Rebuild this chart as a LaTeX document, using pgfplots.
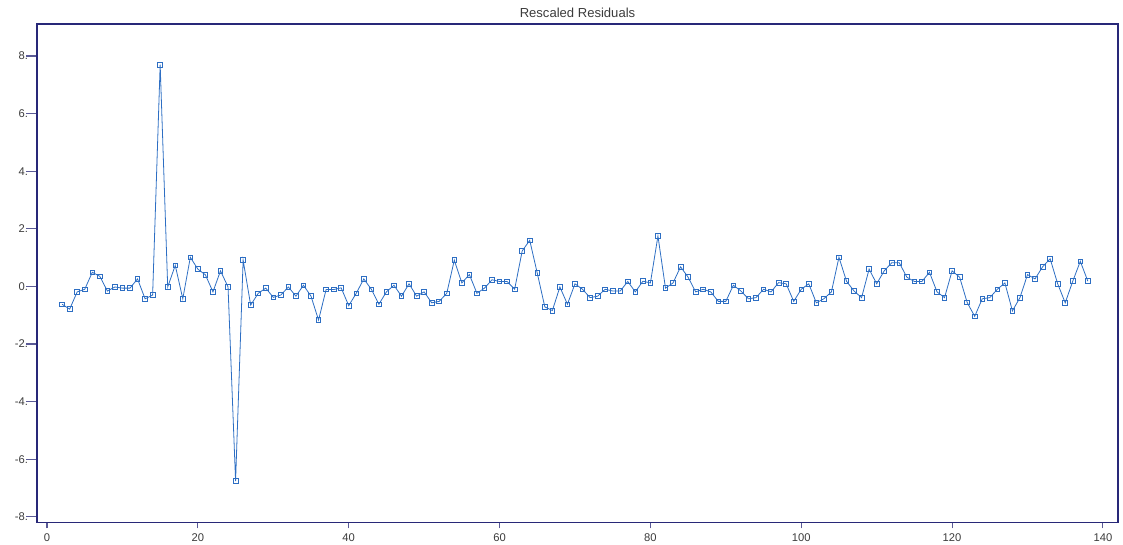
\documentclass[border=0pt]{standalone}
\usepackage{fontspec}
\setmainfont{Liberation Sans}
\usepackage{pgfplots}
\pgfplotsset{compat=1.18}
\definecolor{axnavy}{RGB}{40,40,120}
\definecolor{tickblue}{RGB}{90,90,150}
\definecolor{lineblue}{RGB}{45,110,195}
\definecolor{labgray}{RGB}{60,60,60}
\begin{document}
\begin{tikzpicture}
\useasboundingbox (-27.75pt,-16.3pt) rectangle (814.5pt,391.7pt);
\begin{axis}[
  scale only axis,
  width=810.75pt, height=373.7pt,
  xmin=-1.33, xmax=142.0,
  ymin=-8.19, ymax=9.11,
  axis line style={axnavy, line width=0.9pt},
  xtick={0,20,40,60,80,100,120,140},
  ytick={-8,-6,-4,-2,0,2,4,6,8},
  yticklabels={-8.,-6.,-4.,-2.,0.,2.,4.,6.,8.},
  tick align=outside,
  tick style={tickblue, line width=0.8pt},
  xtick style={/pgfplots/major tick length=4.5pt},
  ytick style={/pgfplots/major tick length=8pt},
  x tick label style={font=\fontsize{8.4}{10}\selectfont, text=labgray, yshift=-1pt},
  y tick label style={font=\fontsize{8.4}{10}\selectfont, text=labgray, xshift=1pt},
  /pgf/number format/assume math mode=true,
  xtick pos=bottom, ytick pos=left,
  title={Rescaled Residuals},
  title style={font=\fontsize{9.8}{11}\selectfont, text=labgray, at={(0.5,1)}, anchor=south, yshift=-4.8pt},
  clip=false,
]
\addplot[color=lineblue, line width=0.6pt, mark=square, mark size=1.75pt,
  mark options={fill=white, draw=lineblue, line width=0.6pt}] coordinates {
(2,-0.62)(3,-0.79)(4,-0.19)(5,-0.10)(6,0.49)(7,0.35)(8,-0.16)(9,-0.02)(10,-0.06)(11,-0.06)
(12,0.26)(13,-0.43)(14,-0.30)(15,7.70)(16,-0.02)(17,0.73)(18,-0.43)(19,1.01)(20,0.60)(21,0.40)
(22,-0.19)(23,0.54)(24,-0.02)(25,-6.76)(26,0.91)(27,-0.65)(28,-0.24)(29,-0.06)(30,-0.38)(31,-0.30)
(32,-0.02)(33,-0.34)(34,0.04)(35,-0.34)(36,-1.17)(37,-0.11)(38,-0.11)(39,-0.05)(40,-0.67)(41,-0.24)
(42,0.26)(43,-0.10)(44,-0.62)(45,-0.19)(46,0.04)(47,-0.34)(48,0.09)(49,-0.34)(50,-0.19)(51,-0.57)
(52,-0.52)(53,-0.24)(54,0.91)(55,0.12)(56,0.41)(57,-0.24)(58,-0.06)(59,0.23)(60,0.17)(61,0.17)
(62,-0.10)(63,1.23)(64,1.60)(65,0.46)(66,-0.71)(67,-0.84)(68,-0.02)(69,-0.62)(70,0.09)(71,-0.10)
(72,-0.39)(73,-0.34)(74,-0.10)(75,-0.16)(76,-0.16)(77,0.17)(78,-0.19)(79,0.18)(80,0.12)(81,1.75)
(82,-0.06)(83,0.12)(84,0.68)(85,0.32)(86,-0.19)(87,-0.10)(88,-0.19)(89,-0.52)(90,-0.52)(91,0.04)
(92,-0.16)(93,-0.43)(94,-0.39)(95,-0.10)(96,-0.19)(97,0.13)(98,0.09)(99,-0.52)(100,-0.10)(101,0.09)
(102,-0.57)(103,-0.43)(104,-0.19)(105,1.01)(106,0.18)(107,-0.16)(108,-0.39)(109,0.60)(110,0.09)(111,0.54)
(112,0.82)(113,0.82)(114,0.32)(115,0.17)(116,0.17)(117,0.49)(118,-0.19)(119,-0.39)(120,0.54)(121,0.32)
(122,-0.56)(123,-1.04)(124,-0.43)(125,-0.39)(126,-0.10)(127,0.12)(128,-0.85)(129,-0.39)(130,0.41)(131,0.26)
(132,0.68)(133,0.96)(134,0.09)(135,-0.57)(136,0.18)(137,0.87)(138,0.18)
};
\end{axis}
\end{tikzpicture}
\end{document}
